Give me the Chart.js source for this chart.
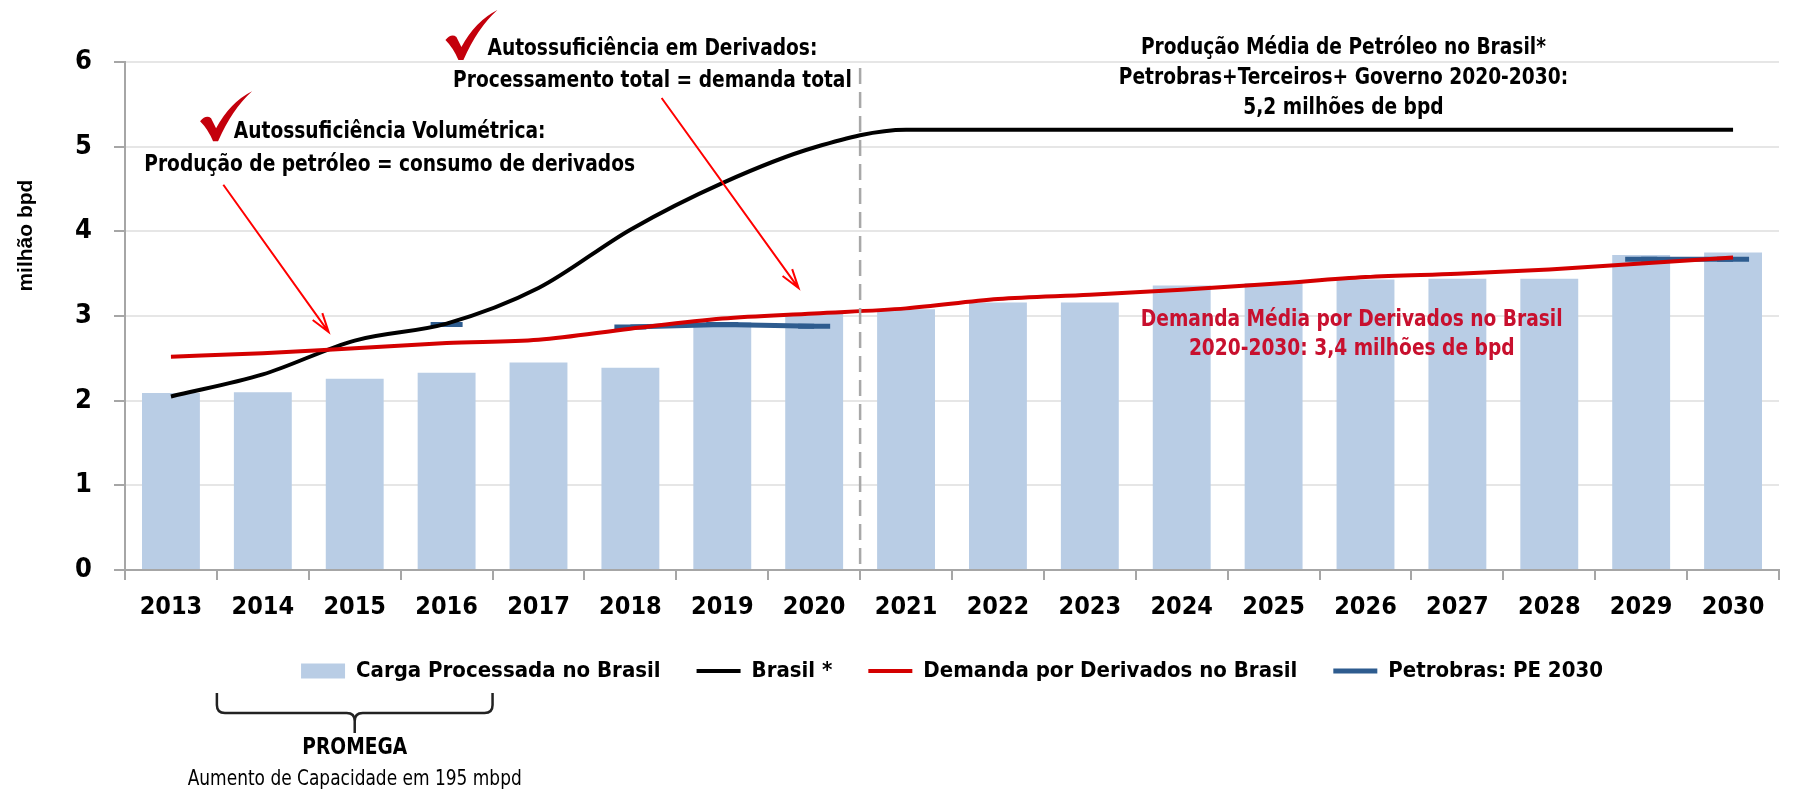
<!DOCTYPE html>
<html>
<head>
<meta charset="utf-8">
<script src="https://cdn.jsdelivr.net/npm/chart.js@4"></script>
<style>
  html, body { margin: 0; padding: 0; background: #fff; }
</style>
</head>
<body>
<canvas id="chart" width="1800" height="790"></canvas>
<script>
const years = ["2013", "2014", "2015", "2016", "2017", "2018", "2019", "2020", "2021",
  "2022", "2023", "2024", "2025", "2026", "2027", "2028", "2029", "2030"];
const cargaProcessada = [2.09, 2.10, 2.26, 2.33, 2.45, 2.39, 2.93, 3.03, 3.08,
  3.16, 3.16, 3.36, 3.39, 3.43, 3.44, 3.44, 3.72, 3.75];
const producaoBrasil = [2.05, 2.31, 2.71, 2.91, 3.33, 4.02, 4.57, 4.99, 5.2,
  5.2, 5.2, 5.2, 5.2, 5.2, 5.2, 5.2, 5.2, 5.2];
const demandaDerivados = [2.52, 2.56, 2.62, 2.68, 2.72, 2.85, 2.97, 3.03, 3.09,
  3.2, 3.25, 3.31, 3.38, 3.46, 3.5, 3.55, 3.62, 3.69];
const petrobrasPE = [null, null, null, 2.9, null, 2.87, 2.9, 2.88, null,
  null, null, null, null, null, null, null, 3.67, 3.67];
const yMin = 0, yMax = 6, yStep = 1;

const NARROW = '"Liberation Sans Narrow", "DejaVu Sans Condensed", "Arial Narrow", sans-serif';

// notes placed in chart coordinates (category index, value)
const notes = [
  { text: "Autossuficiência em Derivados:", i: 5.24, v: 6.153, color: "#000" },
  { text: "Processamento total = demanda total", i: 5.24, v: 5.775, color: "#000" },
  { text: "Autossuficiência Volumétrica:", i: 2.38, v: 5.17, color: "#000" },
  { text: "Produção de petróleo = consumo de derivados", i: 2.38, v: 4.78, color: "#000" },
  { text: "Produção Média de Petróleo no Brasil*", i: 12.76, v: 6.165, color: "#000" },
  { text: "Petrobras+Terceiros+ Governo 2020-2030:", i: 12.76, v: 5.81, color: "#000" },
  { text: "5,2 milhões de bpd", i: 12.76, v: 5.457, color: "#000" },
  { text: "Demanda Média por Derivados no Brasil", i: 12.85, v: 2.953, color: "#c8102e" },
  { text: "2020-2030: 3,4 milhões de bpd", i: 12.85, v: 2.61, color: "#c8102e" }
];
const checks = [{ i: 3.27, v: 6.32 }, { i: 0.60, v: 5.36 }];
const arrows = [
  { from: [0.57, 4.55], to: [1.716, 2.81] },
  { from: [5.34, 5.575], to: [6.83, 3.33] }
];

function narrowText(ctx, text, x, y) {
  ctx.save();
  ctx.translate(x, y);
  ctx.scale(0.9, 1);
  ctx.fillText(text, 0, 0);
  ctx.restore();
}

function drawCheck(ctx, cx, cy) {
  ctx.save();
  ctx.translate(cx - 26, cy - 25);
  ctx.fillStyle = "#c4000c";
  ctx.beginPath();
  ctx.moveTo(0, 30);
  ctx.quadraticCurveTo(6, 23, 11, 27);
  ctx.lineTo(16, 37);
  ctx.quadraticCurveTo(30, 11, 52, 0);
  ctx.quadraticCurveTo(32, 18, 18, 50);
  ctx.lineTo(13, 50);
  ctx.quadraticCurveTo(8, 38, 0, 30);
  ctx.fill();
  ctx.restore();
}

const extras = {
  id: "extras",
  afterDraw(chart) {
    const ctx = chart.ctx;
    const xs = chart.scales.x, ys = chart.scales.y;
    const area = chart.chartArea;
    const px = i => xs.left + (xs.right - xs.left) * (i + 0.5) / years.length;

    ctx.save();
    // dashed divider between 2020 and 2021
    const xd = (xs.getPixelForValue(7) + xs.getPixelForValue(8)) / 2;
    ctx.strokeStyle = "#a8a8a8";
    ctx.lineWidth = 2.5;
    ctx.setLineDash([16, 8]);
    ctx.beginPath();
    ctx.moveTo(xd, ys.getPixelForValue(5.93));
    ctx.lineTo(xd, ys.getPixelForValue(0));
    ctx.stroke();
    ctx.setLineDash([]);

    // y title
    ctx.save();
    ctx.translate(26, ys.getPixelForValue(3.95));
    ctx.rotate(-Math.PI / 2);
    ctx.font = 'bold 21px "Liberation Sans", Arial, sans-serif';
    ctx.fillStyle = "#000";
    ctx.textAlign = "center";
    ctx.textBaseline = "middle";
    ctx.fillText("milhão bpd", 0, 0);
    ctx.restore();

    // notes
    ctx.font = "bold 23px " + NARROW;
    ctx.textAlign = "center";
    ctx.textBaseline = "middle";
    notes.forEach(n => {
      ctx.fillStyle = n.color;
      narrowText(ctx, n.text, px(n.i), ys.getPixelForValue(n.v));
    });

    // check marks
    checks.forEach(c => drawCheck(ctx, px(c.i), ys.getPixelForValue(c.v)));

    // arrows
    ctx.strokeStyle = "#ff0000";
    ctx.lineWidth = 2;
    arrows.forEach(a => {
      const x1 = px(a.from[0]), y1 = ys.getPixelForValue(a.from[1]);
      const x2 = px(a.to[0]), y2 = ys.getPixelForValue(a.to[1]);
      const ang = Math.atan2(y2 - y1, x2 - x1);
      ctx.beginPath();
      ctx.moveTo(x1, y1);
      ctx.lineTo(x2, y2);
      ctx.moveTo(x2 - 20 * Math.cos(ang - 0.3), y2 - 20 * Math.sin(ang - 0.3));
      ctx.lineTo(x2, y2);
      ctx.lineTo(x2 - 20 * Math.cos(ang + 0.3), y2 - 20 * Math.sin(ang + 0.3));
      ctx.stroke();
    });

    // PROMEGA brace under 2014-2016
    const x1 = xs.left + (xs.right - xs.left) * 1 / years.length;
    const x2 = xs.left + (xs.right - xs.left) * 4 / years.length;
    const xm = (x1 + x2) / 2;
    const yTop = area.bottom + 123, yMid = area.bottom + 143, yTip = area.bottom + 163;
    ctx.strokeStyle = "#222";
    ctx.lineWidth = 2.5;
    ctx.beginPath();
    ctx.moveTo(x1, yTop);
    ctx.lineTo(x1, yMid - 8);
    ctx.quadraticCurveTo(x1, yMid, x1 + 8, yMid);
    ctx.lineTo(xm - 8, yMid);
    ctx.quadraticCurveTo(xm, yMid, xm, yMid + 8);
    ctx.lineTo(xm, yTip);
    ctx.moveTo(x2, yTop);
    ctx.lineTo(x2, yMid - 8);
    ctx.quadraticCurveTo(x2, yMid, x2 - 8, yMid);
    ctx.lineTo(xm + 8, yMid);
    ctx.quadraticCurveTo(xm, yMid, xm, yMid + 8);
    ctx.stroke();

    ctx.fillStyle = "#000";
    ctx.font = "bold 23px " + NARROW;
    narrowText(ctx, "PROMEGA", xm, area.bottom + 178);
    ctx.font = "21px " + NARROW;
    narrowText(ctx, "Aumento de Capacidade em 195 mbpd", xm, area.bottom + 210);
    ctx.restore();
  }
};

const ctx = document.getElementById("chart").getContext("2d");
const chart = new Chart(ctx, {
  type: "bar",
  data: {
    labels: years,
    datasets: [
      {
        label: "Carga Processada no Brasil",
        data: cargaProcessada,
        backgroundColor: "#b9cde5",
        barPercentage: 0.63,
        categoryPercentage: 1,
        pointStyle: "rect",
        order: 10
      },
      {
        type: "line",
        label: "Brasil *",
        data: producaoBrasil,
        borderColor: "#000",
        borderWidth: 4,
        pointRadius: 0,
        pointStyle: "line",
        pointBorderColor: "#000",
        pointBorderWidth: 4,
        cubicInterpolationMode: "monotone",
        order: 2
      },
      {
        type: "line",
        label: "Demanda por Derivados no Brasil",
        data: demandaDerivados,
        borderColor: "#d40000",
        borderWidth: 4,
        pointRadius: 0,
        pointStyle: "line",
        pointBorderColor: "#d40000",
        pointBorderWidth: 4,
        cubicInterpolationMode: "monotone",
        order: 1
      },
      {
        type: "line",
        label: "Petrobras: PE 2030",
        data: petrobrasPE,
        borderColor: "#2e5c8f",
        borderWidth: 5,
        pointRadius: 16,
        pointStyle: "line",
        pointBorderColor: "#2e5c8f",
        pointBorderWidth: 5,
        spanGaps: false,
        order: 3
      }
    ]
  },
  options: {
    responsive: false,
    animation: false,
    layout: { padding: { top: 62, right: 9, bottom: 98, left: 0 } },
    plugins: {
      legend: {
        position: "bottom",
        fullSize: false,
        labels: {
          usePointStyle: true,
          pointStyleWidth: 44,
          boxHeight: 15,
          padding: 36,
          color: "#000",
          font: { family: NARROW, size: 22, weight: "bold" },
          sort: (a, b) => a.datasetIndex - b.datasetIndex
        }
      },
      tooltip: { enabled: false }
    },
    scales: {
      x: {
        grid: { drawOnChartArea: false, tickLength: 10, color: "#a6a6a6", lineWidth: 2 },
        border: { color: "#a6a6a6", width: 2 },
        ticks: {
          color: "#000",
          padding: 12,
          maxRotation: 0,
          autoSkip: false,
          font: { family: NARROW, size: 25, weight: "bold" }
        },
        afterFit: s => { s.height = 54; }
      },
      y: {
        min: yMin,
        max: yMax,
        grid: { color: "#e6e6e6", lineWidth: 2, tickLength: 11, tickColor: "#a6a6a6" },
        border: { color: "#a6a6a6", width: 2 },
        ticks: {
          stepSize: yStep,
          color: "#000",
          padding: 22,
          font: { family: NARROW, size: 27, weight: "bold" }
        },
        afterFit: s => { s.width = 125; }
      }
    }
  },
  plugins: [extras]
});
</script>
</body>
</html>
